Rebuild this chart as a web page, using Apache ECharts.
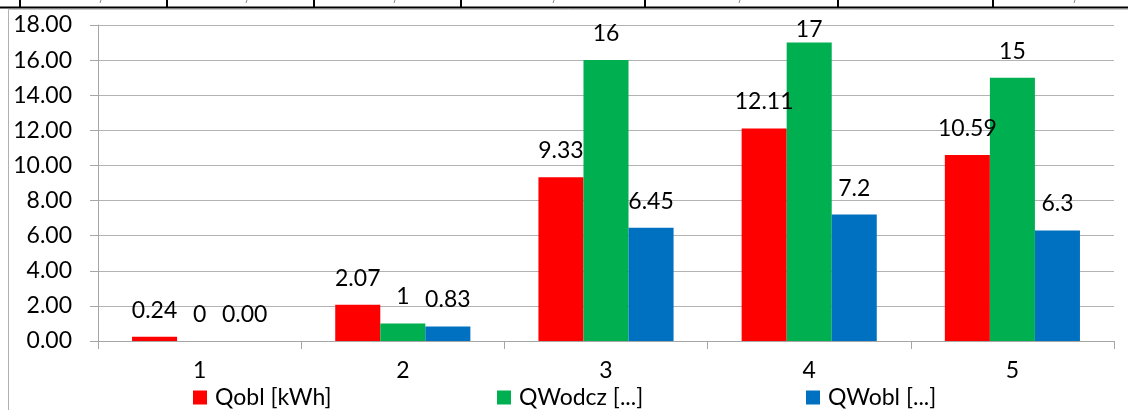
<!DOCTYPE html>
<html>
<head>
<meta charset="utf-8">
<script src="https://cdn.jsdelivr.net/npm/echarts@6/dist/echarts.min.js"></script>
<style>
html,body{margin:0;padding:0;background:#fff;}
#chart{width:1128px;height:410px;}
</style>
</head>
<body>
<div id="chart"></div>
<script>
var categories = ['1', '2', '3', '4', '5'];
var seriesNames = ['Qobl [kWh]', 'QWodcz [...]', 'QWobl [...]'];
var qobl = [0.24, 2.07, 9.33, 12.11, 10.59];
var qwodcz = [0, 1, 16, 17, 15];
var qwobl = [0.00, 0.83, 6.45, 7.2, 6.3];
var qoblLabels = ['0.24', '2.07', '9.33', '12.11', '10.59'];
var qwodczLabels = ['0', '1', '16', '17', '15'];
var qwoblLabels = ['0.00', '0.83', '6.45', '7.2', '6.3'];
var yTicks = ['0.00', '2.00', '4.00', '6.00', '8.00', '10.00', '12.00', '14.00', '16.00', '18.00'];

var FONT = 'Lato, "Open Sans", sans-serif';
var FS = 23;
var colors = ['#FF0000', '#00B050', '#0070C0'];
var tableX = [20, 167, 314, 461, 645, 838, 993];
var tableMarks = [101, 247, 395, 554, 740, 1075];

var chart = echarts.init(document.getElementById('chart'), null, {renderer: 'canvas'});

function mkSeries(name, data, labels, color, tightIndex) {
  return {
    name: name,
    type: 'bar',
    data: data.map(function (v, i) {
      return i === tightIndex ? {value: v, label: {distance: 1}} : v;
    }),
    barGap: '0%',
    barCategoryGap: '33.5%',
    itemStyle: {color: color},
    label: {
      show: true,
      position: 'top',
      distance: 15,
      color: '#000',
      fontFamily: FONT,
      fontSize: FS,
      formatter: function (p) { return labels[p.dataIndex]; }
    }
  };
}

var graphics = [
  {type: 'line', shape: {x1: 0, y1: 7.5, x2: 1128, y2: 7.5}, style: {stroke: '#000', lineWidth: 2}, z: 10},
  {type: 'line', shape: {x1: 8.5, y1: 9.5, x2: 1128, y2: 9.5}, style: {stroke: '#c8c8c8', lineWidth: 1}, z: 10},
  {type: 'line', shape: {x1: 8.5, y1: 9.5, x2: 8.5, y2: 410}, style: {stroke: '#b0b0b0', lineWidth: 1}, z: 10}
];
tableX.forEach(function (x) {
  graphics.push({type: 'line', shape: {x1: x, y1: 0, x2: x, y2: 7}, style: {stroke: '#000', lineWidth: 2}, z: 10});
});
tableMarks.forEach(function (x) {
  graphics.push({type: 'line', shape: {x1: x, y1: 0, x2: x - 1, y2: 3}, style: {stroke: '#888', lineWidth: 1}, z: 10});
});

var legendBase = {top: 386, padding: 0, itemWidth: 14, itemHeight: 14, icon: 'rect',
  textStyle: {fontFamily: FONT, fontSize: FS, color: '#000', padding: [0, 0, 0, 3]}};

var option = {
  backgroundColor: '#fff',
  animation: false,
  textStyle: {fontFamily: FONT},
  grid: {left: 98, right: 14, top: 25, bottom: 69, containLabel: false},
  legend: [
    Object.assign({data: [seriesNames[0]], left: 193}, legendBase),
    Object.assign({data: [seriesNames[1]], left: 497}, legendBase),
    Object.assign({data: [seriesNames[2]], left: 806}, legendBase)
  ],
  xAxis: {
    type: 'category',
    data: categories,
    axisLine: {show: true, lineStyle: {color: '#a6a6a6', width: 1}},
    axisTick: {show: true, length: 8, lineStyle: {color: '#a6a6a6'}},
    axisLabel: {color: '#000', fontFamily: FONT, fontSize: FS, margin: 18}
  },
  yAxis: {
    type: 'value',
    min: 0,
    max: 18,
    interval: 2,
    axisLine: {show: true, lineStyle: {color: '#a6a6a6', width: 1}},
    axisTick: {show: true, length: 8, lineStyle: {color: '#a6a6a6'}},
    splitLine: {show: true, lineStyle: {color: '#b3b3b3', width: 1}},
    axisLabel: {
      color: '#000', fontFamily: FONT, fontSize: FS, margin: 26,
      formatter: function (v) { return yTicks[Math.round(v / 2)]; }
    }
  },
  series: [
    mkSeries(seriesNames[0], qobl, qoblLabels, colors[0], -1),
    mkSeries(seriesNames[1], qwodcz, qwodczLabels, colors[1], 3),
    mkSeries(seriesNames[2], qwobl, qwoblLabels, colors[2], -1)
  ],
  graphic: graphics
};
chart.setOption(option);
</script>
</body>
</html>
